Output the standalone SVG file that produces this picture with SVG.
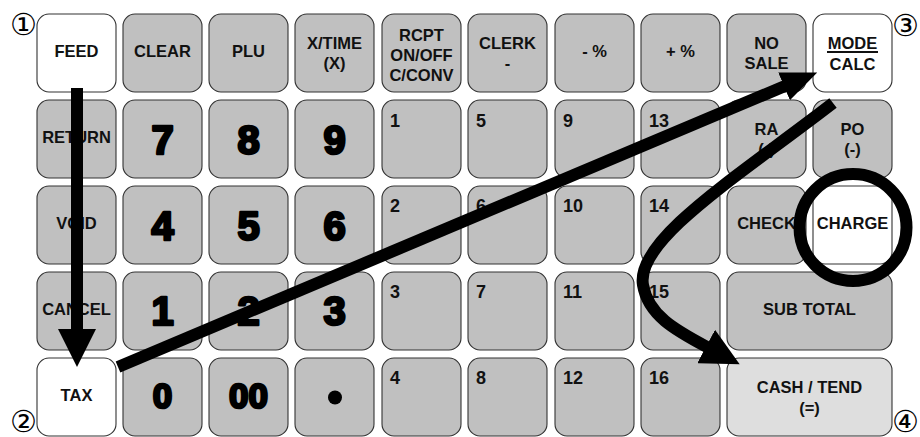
<svg xmlns="http://www.w3.org/2000/svg" width="920" height="437" viewBox="0 0 920 437">
<style>
.k{fill:#c0c0c0;stroke:#333;stroke-width:1.1}
.w{fill:#fff;stroke:#333;stroke-width:1.1}
.l{fill:#dedede;stroke:#333;stroke-width:1.1}
.t{font-family:"Liberation Sans",Arial,sans-serif;font-weight:bold;font-size:16.5px;fill:#111;text-anchor:middle}
.n{font-family:"Liberation Sans",Arial,sans-serif;font-weight:bold;font-size:18px;fill:#111}
.b{font-family:"Liberation Sans",Arial,sans-serif;font-weight:bold;font-size:40px;fill:#000;stroke:#000;stroke-width:2.6;stroke-linejoin:round;text-anchor:middle}
.c{font-family:"DejaVu Serif","DejaVu Sans","Noto Sans CJK JP",serif;font-size:30px;fill:#000;text-anchor:middle}
.ar{fill:none;stroke:#000;stroke-width:12;stroke-linecap:butt}
</style>
<defs>
<marker id="hL" markerUnits="userSpaceOnUse" viewBox="0 0 38 38" markerWidth="38" markerHeight="38" refX="1" refY="19" orient="auto"><path d="M0,0 L38,19 L0,38 z" fill="#000"/></marker>
<marker id="hS" markerUnits="userSpaceOnUse" viewBox="0 0 36 30" markerWidth="36" markerHeight="30" refX="1" refY="15" orient="auto"><path d="M0,0 L36,15 L0,30 z" fill="#000"/></marker>
</defs>
<rect width="920" height="437" fill="#fff"/>

<!-- Row 1 -->
<g id="k-feed"><rect class="w" x="37" y="14" width="79" height="78" rx="12"/><text class="t" x="76.5" y="57">FEED</text></g>
<g id="k-clear"><rect class="k" x="123" y="14" width="79" height="78" rx="12"/><text class="t" x="162.5" y="57">CLEAR</text></g>
<g id="k-plu"><rect class="k" x="209" y="14" width="79" height="78" rx="12"/><text class="t" x="248.5" y="57">PLU</text></g>
<g id="k-xtime"><rect class="k" x="295" y="14" width="79" height="78" rx="12"/><text class="t" x="334.5" y="49">X/TIME</text><text class="t" x="334.5" y="69">(X)</text></g>
<g id="k-rcpt"><rect class="k" x="382" y="14" width="79" height="78" rx="12"/><text class="t" x="421.5" y="41">RCPT</text><text class="t" x="421.5" y="61">ON/OFF</text><text class="t" x="421.5" y="81">C/CONV</text></g>
<g id="k-clerk"><rect class="k" x="468" y="14" width="79" height="78" rx="12"/><text class="t" x="507.5" y="49">CLERK</text><text class="t" x="507.5" y="69">-</text></g>
<g id="k-minuspct"><rect class="k" x="555" y="14" width="79" height="78" rx="12"/><text class="t" x="594.5" y="57">- %</text></g>
<g id="k-pluspct"><rect class="k" x="641" y="14" width="79" height="78" rx="12"/><text class="t" x="680.5" y="57">+ %</text></g>
<g id="k-nosale"><rect class="k" x="727" y="14" width="79" height="78" rx="12"/><text class="t" x="766.5" y="49">NO</text><text class="t" x="766.5" y="69">SALE</text></g>
<g id="k-mode"><rect class="w" x="813" y="14" width="79" height="78" rx="12"/><text class="t" x="852.5" y="49">MODE</text><line x1="827" y1="52" x2="878" y2="52" stroke="#111" stroke-width="2"/><text class="t" x="852.5" y="70">CALC</text></g>

<!-- Row 2 -->
<g id="k-return"><rect class="k" x="37" y="100" width="79" height="78" rx="12"/><text class="t" x="76.5" y="143">RETURN</text></g>
<g id="k-7"><rect class="k" x="123" y="100" width="79" height="78" rx="12"/><text class="b" x="162.5" y="154">7</text></g>
<g id="k-8"><rect class="k" x="209" y="100" width="79" height="78" rx="12"/><text class="b" x="248.5" y="154">8</text></g>
<g id="k-9"><rect class="k" x="295" y="100" width="79" height="78" rx="12"/><text class="b" x="334.5" y="154">9</text></g>
<g id="k-d1"><rect class="k" x="382" y="100" width="79" height="78" rx="12"/><text class="n" x="390" y="127">1</text></g>
<g id="k-d5"><rect class="k" x="468" y="100" width="79" height="78" rx="12"/><text class="n" x="476" y="127">5</text></g>
<g id="k-d9"><rect class="k" x="555" y="100" width="79" height="78" rx="12"/><text class="n" x="563" y="127">9</text></g>
<g id="k-d13"><rect class="k" x="641" y="100" width="79" height="78" rx="12"/><text class="n" x="649" y="127">13</text></g>
<g id="k-ra"><rect class="k" x="727" y="100" width="79" height="78" rx="12"/><text class="t" x="766.5" y="135">RA</text><text class="t" x="766.5" y="155">(-)</text></g>
<g id="k-po"><rect class="k" x="813" y="100" width="79" height="78" rx="12"/><text class="t" x="852.5" y="135">PO</text><text class="t" x="852.5" y="155">(-)</text></g>

<!-- Row 3 -->
<g id="k-void"><rect class="k" x="37" y="186" width="79" height="78" rx="12"/><text class="t" x="76.5" y="229">VOID</text></g>
<g id="k-4"><rect class="k" x="123" y="186" width="79" height="78" rx="12"/><text class="b" x="162.5" y="240">4</text></g>
<g id="k-5"><rect class="k" x="209" y="186" width="79" height="78" rx="12"/><text class="b" x="248.5" y="240">5</text></g>
<g id="k-6"><rect class="k" x="295" y="186" width="79" height="78" rx="12"/><text class="b" x="334.5" y="240">6</text></g>
<g id="k-d2"><rect class="k" x="382" y="186" width="79" height="78" rx="12"/><text class="n" x="390" y="212">2</text></g>
<g id="k-d6"><rect class="k" x="468" y="186" width="79" height="78" rx="12"/><text class="n" x="476" y="212">6</text></g>
<g id="k-d10"><rect class="k" x="555" y="186" width="79" height="78" rx="12"/><text class="n" x="563" y="212">10</text></g>
<g id="k-d14"><rect class="k" x="641" y="186" width="79" height="78" rx="12"/><text class="n" x="649" y="212">14</text></g>
<g id="k-check"><rect class="k" x="727" y="186" width="79" height="78" rx="12"/><text class="t" x="766.5" y="229">CHECK</text></g>
<g id="k-charge"><rect class="w" x="813" y="186" width="79" height="78" rx="12"/><text class="t" x="852.5" y="229">CHARGE</text></g>

<!-- Row 4 -->
<g id="k-cancel"><rect class="k" x="37" y="272" width="79" height="78" rx="12"/><text class="t" x="76.5" y="315">CANCEL</text></g>
<g id="k-1"><rect class="k" x="123" y="272" width="79" height="78" rx="12"/><text class="b" x="162.5" y="325">1</text></g>
<g id="k-2"><rect class="k" x="209" y="272" width="79" height="78" rx="12"/><text class="b" x="248.5" y="325">2</text></g>
<g id="k-3"><rect class="k" x="295" y="272" width="79" height="78" rx="12"/><text class="b" x="334.5" y="325">3</text></g>
<g id="k-d3"><rect class="k" x="382" y="272" width="79" height="78" rx="12"/><text class="n" x="390" y="298">3</text></g>
<g id="k-d7"><rect class="k" x="468" y="272" width="79" height="78" rx="12"/><text class="n" x="476" y="298">7</text></g>
<g id="k-d11"><rect class="k" x="555" y="272" width="79" height="78" rx="12"/><text class="n" x="563" y="298">11</text></g>
<g id="k-d15"><rect class="k" x="641" y="272" width="79" height="78" rx="12"/><text class="n" x="649" y="298">15</text></g>
<g id="k-subtotal"><rect class="k" x="727" y="272" width="165" height="78" rx="12"/><text class="t" x="809.5" y="315">SUB TOTAL</text></g>

<!-- Row 5 -->
<g id="k-tax"><rect class="w" x="37" y="358" width="79" height="78" rx="12"/><text class="t" x="76.5" y="401">TAX</text></g>
<g id="k-0"><rect class="k" x="123" y="358" width="79" height="78" rx="12"/><text class="b" x="162.5" y="408" style="font-size:35px">0</text></g>
<g id="k-00"><rect class="k" x="209" y="358" width="79" height="78" rx="12"/><text class="b" x="248.5" y="408" style="font-size:35px">00</text></g>
<g id="k-dot"><rect class="k" x="295" y="358" width="79" height="78" rx="12"/><circle cx="335" cy="397.5" r="7" fill="#000"/></g>
<g id="k-d4"><rect class="k" x="382" y="358" width="79" height="78" rx="12"/><text class="n" x="390" y="384">4</text></g>
<g id="k-d8"><rect class="k" x="468" y="358" width="79" height="78" rx="12"/><text class="n" x="476" y="384">8</text></g>
<g id="k-d12"><rect class="k" x="555" y="358" width="79" height="78" rx="12"/><text class="n" x="563" y="384">12</text></g>
<g id="k-d16"><rect class="k" x="641" y="358" width="79" height="78" rx="12"/><text class="n" x="649" y="384">16</text></g>
<g id="k-cash"><rect class="l" x="727" y="358" width="165" height="78" rx="12"/><text class="t" x="809.5" y="393">CASH / TEND</text><text class="t" x="809.5" y="414">(=)</text></g>

<!-- step numbers -->
<g id="marks">
<text class="c" x="23.5" y="35">①</text>
<text class="c" x="23.5" y="432">②</text>
<text class="c" x="905.5" y="36">③</text>
<text class="c" x="905.5" y="432">④</text>
</g>

<!-- connectors -->
<g id="connectors">
<path class="ar" d="M77,88 L77,330" marker-end="url(#hL)"/>
<path class="ar" d="M118,367 L785,86" marker-end="url(#hS)"/>
<path class="ar" d="M833,103 C740,175 635,240 643,285 C648,315 675,330 707,347" marker-end="url(#hL)"/>
<circle cx="853" cy="227.5" r="53.5" fill="none" stroke="#000" stroke-width="12"/>
</g>
</svg>
